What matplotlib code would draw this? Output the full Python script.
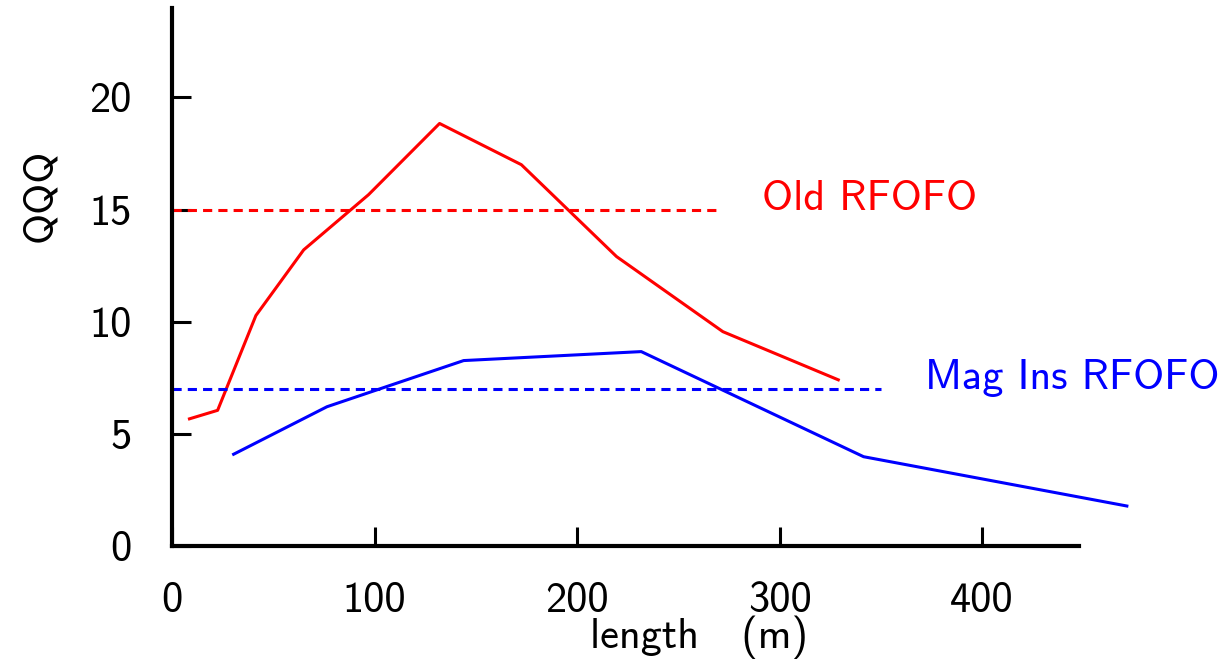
import matplotlib
matplotlib.use("Agg")
import matplotlib.pyplot as plt

plt.rcParams['font.family'] = ['cmss10', 'DejaVu Sans']
plt.rcParams['axes.unicode_minus'] = False

old_x = [8.6, 22.5, 41.4, 65, 97, 132.1, 172.5, 219.5, 272, 329]
old_y = [5.66, 6.04, 10.27, 13.2, 15.66, 18.84, 17.0, 12.9, 9.55, 7.4]
mag_x = [30.4, 76.5, 144, 231.7, 341.5, 471.5]
mag_y = [4.08, 6.2, 8.26, 8.66, 3.97, 1.77]

old_level, old_end = 15, 270
mag_level, mag_end = 7, 350

fs = 30.5

fig = plt.figure(figsize=(12.22, 6.64), dpi=100)
ax = fig.add_axes([0.1408, 0.1782, 0.7424, 0.81])

ax.plot(old_x, old_y, color='red', lw=2.2, clip_on=False)
ax.plot(mag_x, mag_y, color='blue', lw=2.2, clip_on=False)
ax.plot([0, old_end], [old_level, old_level], color='red', lw=2.2, dashes=(3, 2), clip_on=False)
ax.plot([0, mag_end], [mag_level, mag_level], color='blue', lw=2.2, dashes=(3, 2), clip_on=False)

ax.text(291.5, old_level, 'Old RFOFO', color='red', fontsize=fs, va='baseline')
ax.text(372, mag_level, 'Mag Ins RFOFO', color='blue', fontsize=fs, va='baseline')

ax.set_xlim(0, 448)
ax.set_ylim(0, 24)
ax.set_xticks([0, 100, 200, 300, 400])
ax.set_yticks([0, 5, 10, 15, 20])

for s in ['top', 'right']:
    ax.spines[s].set_visible(False)
for s in ['left', 'bottom']:
    ax.spines[s].set_linewidth(3)

ax.tick_params(direction='in', length=14, width=2.2, labelsize=fs)
ax.tick_params(axis='x', pad=26)
ax.tick_params(axis='y', pad=29)

fig.text(0.572, 0.008, 'length   (m)', fontsize=fs, ha='center', va='bottom')
fig.text(0.033, 0.706, 'QQQ', fontsize=fs, rotation=90, ha='center', va='center')

fig.savefig('out.png', dpi=100)
